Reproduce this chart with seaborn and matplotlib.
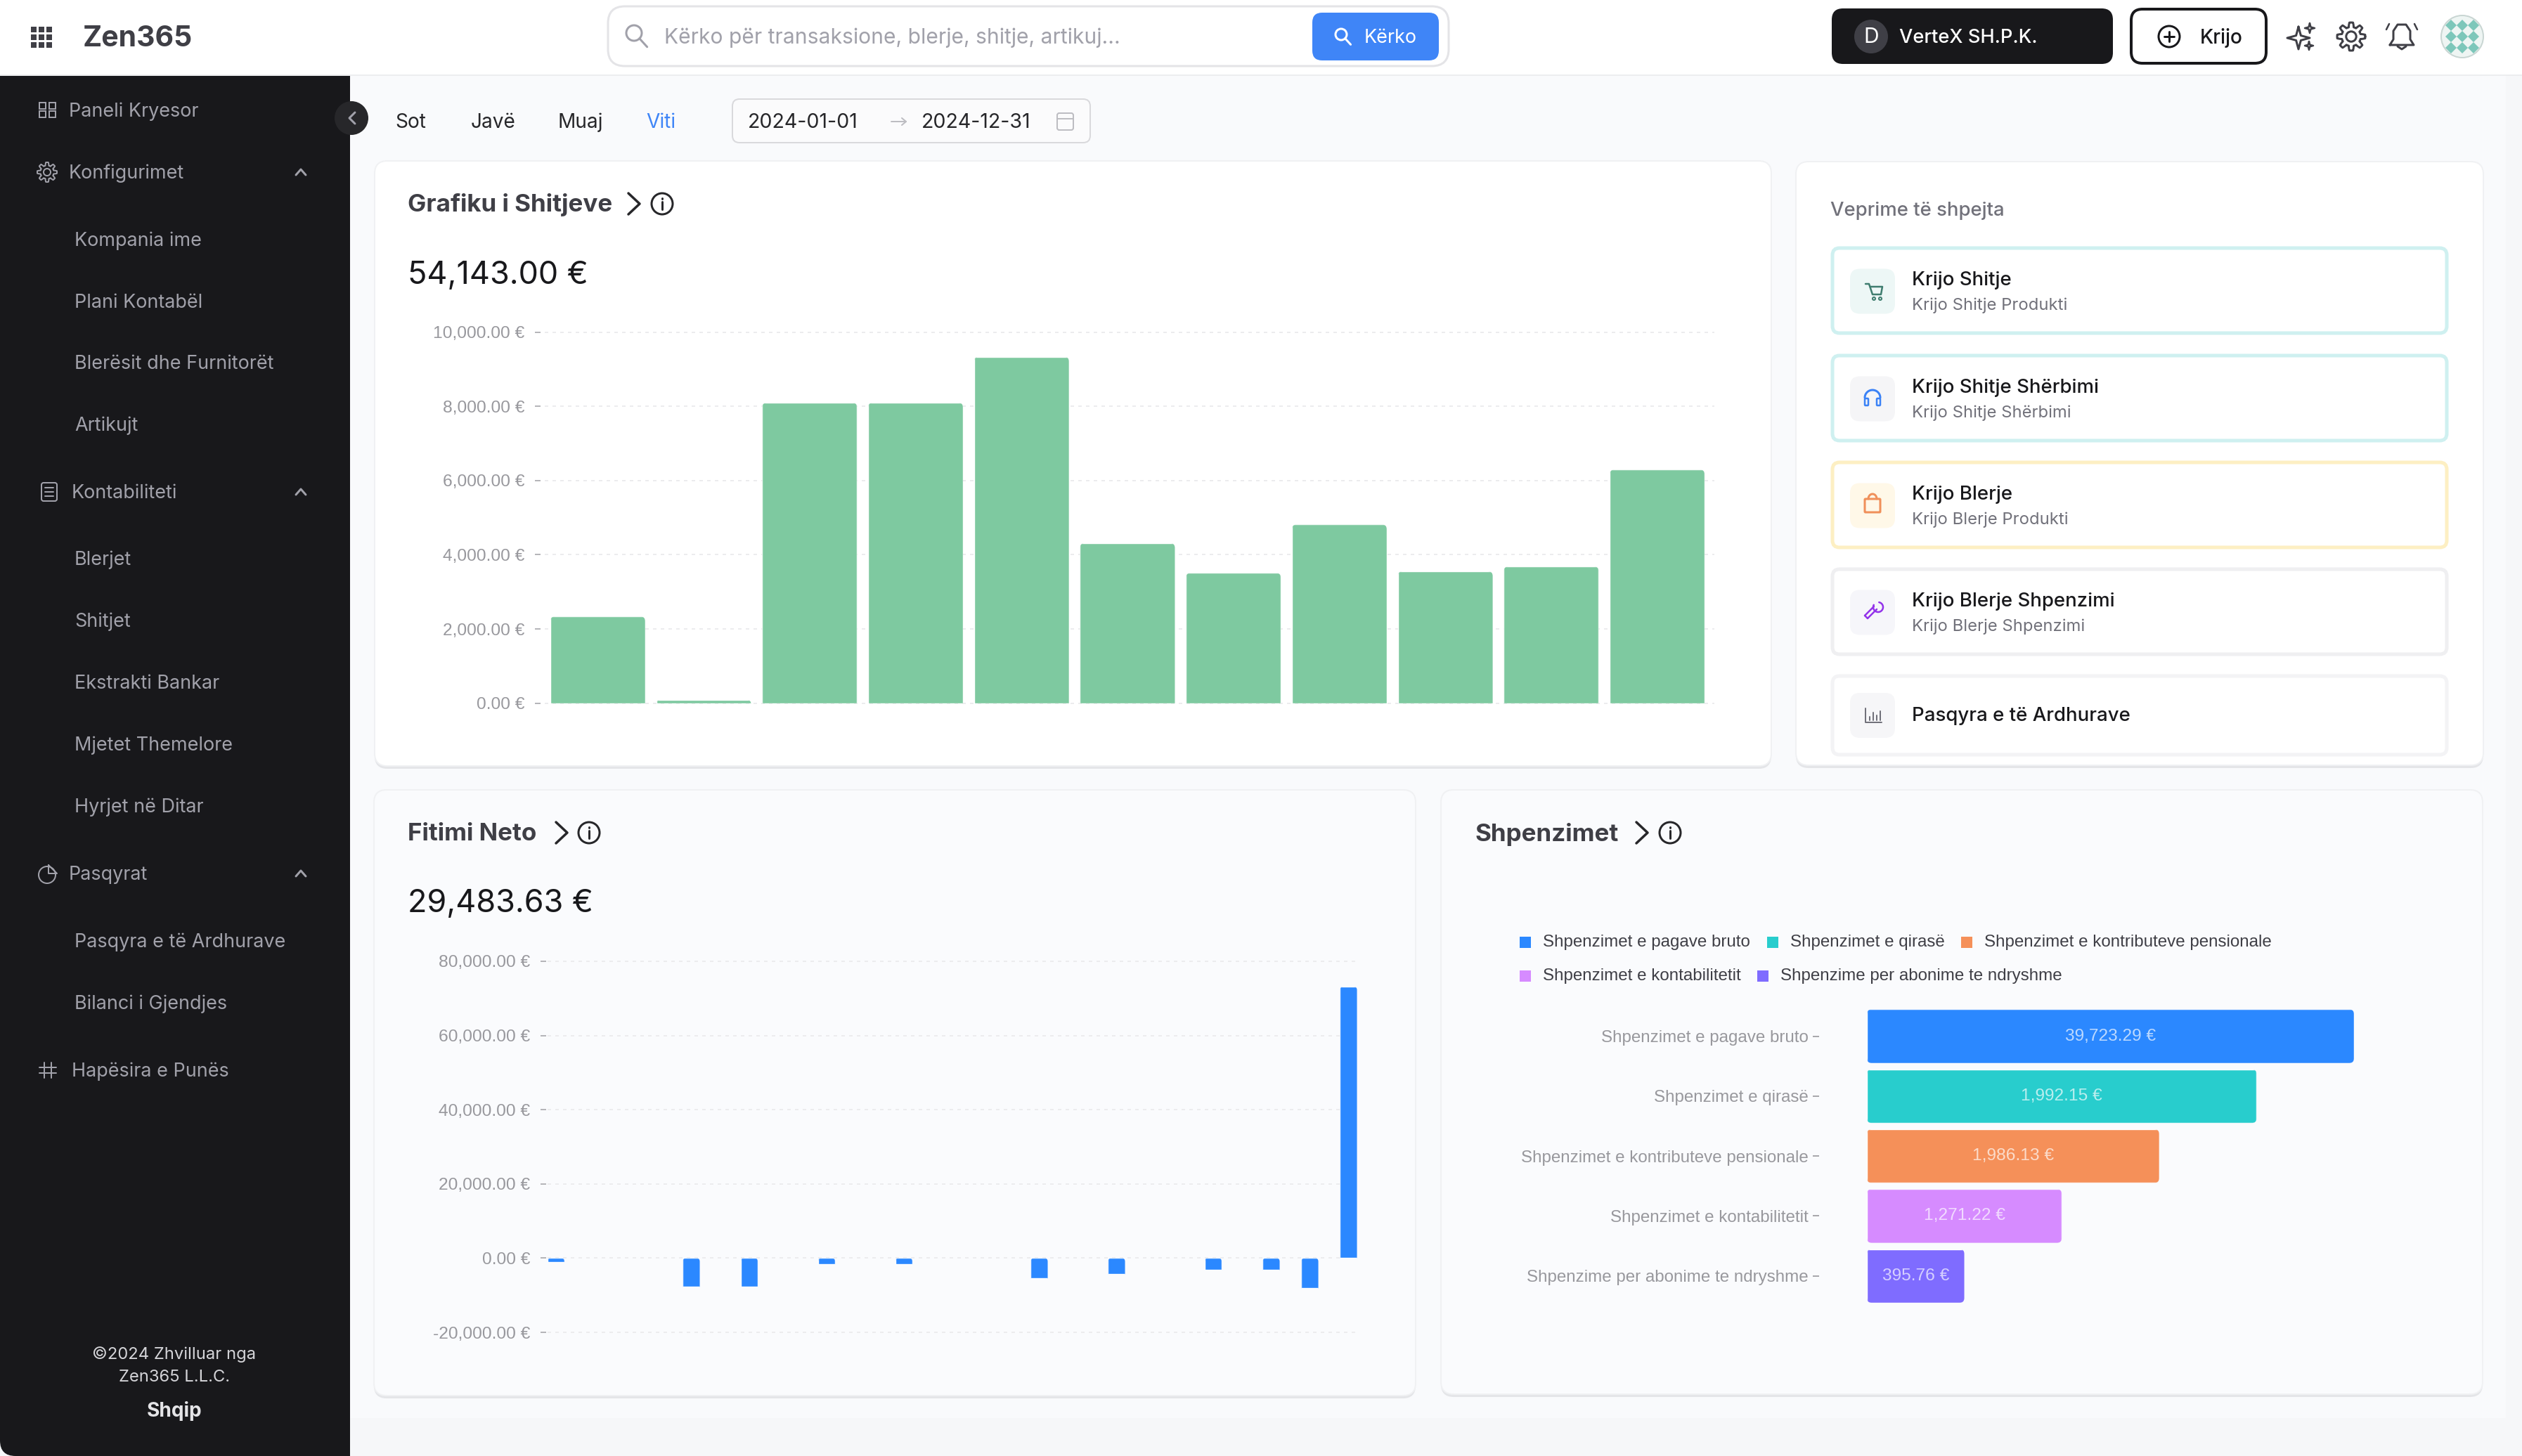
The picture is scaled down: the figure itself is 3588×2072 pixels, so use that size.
import numpy as np
import matplotlib
matplotlib.use('Agg')
import matplotlib.pyplot as plt
import seaborn as sns
from matplotlib.patches import FancyBboxPatch, Circle, Polygon, Rectangle
from matplotlib.transforms import IdentityTransform

# Grafiku i Shitjeve
periudhat = ['P1', 'P2', 'P3', 'P4', 'P5', 'P6', 'P7', 'P8', 'P9', 'P10', 'P11']
shitjet = [2337, 98, 8098, 8098, 9337, 4315, 3511, 4815, 3554, 3685, 6295]
shitjet_ticks = [0, 2000, 4000, 6000, 8000, 10000]

# Fitimi Neto
fitimi_periudha = [0, 7, 10, 14, 18, 25, 29, 34, 37, 39, 41]
fitimi = [-978, -7717, -7609, -1630, -1630, -5435, -4348, -3152, -3152, -8043, 73178]
fitimi_ticks = [-20000, 0, 20000, 40000, 60000, 80000]

# Shpenzimet
shpenzimet_emrat = ['Shpenzimet e pagave bruto', 'Shpenzimet e qirasë',
                    'Shpenzimet e kontributeve pensionale', 'Shpenzimet e kontabilitetit',
                    'Shpenzime per abonime te ndryshme']
shpenzimet_gjatesia = [5, 4, 3, 2, 1]
shpenzimet_vlerat = ['39,723.29 €', '1,992.15 €', '1,986.13 €', '1,271.22 €', '395.76 €']
shpenzimet_ngjyrat = ['#2B88FF', '#28CDCD', '#F59059', '#D68BFF', '#7F6CFF']

menu_kryesor = [('Paneli Kryesor', 98, 157), ('Konfigurimet', 98, 245), ('Kontabiliteti', 102, 700),
                ('Pasqyrat', 98, 1243), ('Hapësira e Punës', 102, 1523)]
menu_nen = [('Kompania ime', 341), ('Plani Kontabël', 429), ('Blerësit dhe Furnitorët', 516),
            ('Artikujt', 604), ('Blerjet', 795), ('Shitjet', 883), ('Ekstrakti Bankar', 971),
            ('Mjetet Themelore', 1059), ('Hyrjet në Ditar', 1147),
            ('Pasqyra e të Ardhurave', 1339), ('Bilanci i Gjendjes', 1427)]

veprimet = [('Krijo Shitje', 'Krijo Shitje Produkti', 351, 476, '#CFF0F0', '#EDF7F6'),
            ('Krijo Shitje Shërbimi', 'Krijo Shitje Shërbimi', 504, 629, '#CFF0F0', '#F5F5F7'),
            ('Krijo Blerje', 'Krijo Blerje Produkti', 656, 781, '#FDEFC3', '#FFF8E8'),
            ('Krijo Blerje Shpenzimi', 'Krijo Blerje Shpenzimi', 808, 933, '#EFEFF1', '#F6F6FA'),
            ('Pasqyra e të Ardhurave', '', 960, 1076, '#F3F3F5', '#F6F6F8')]

W, H = 3588, 2072
PX = 0.72  # px -> pt at dpi 100
FONT = ['Inter', 'DejaVu Sans']
CHART_FONT = ['Liberation Sans', 'DejaVu Sans']
GRAY = '#98989D'

sns.set_theme(style='white')
plt.rcParams['font.family'] = FONT

fig = plt.figure(figsize=(W / 100, H / 100), dpi=100)
fig.patch.set_facecolor('#F6F7F9')

ui = fig.add_axes([0, 0, 1, 1], zorder=0)
ui.set_xlim(0, W)
ui.set_ylim(H, 0)
ui.axis('off')
ui.set_autoscale_on(False)


def box(x0, y0, x1, y1, r, fc, ec='none', lw=0, z=1):
    p = FancyBboxPatch((x0, y0), x1 - x0, y1 - y0, boxstyle=f'round,pad=0,rounding_size={r}',
                       fc=fc, ec=ec, lw=lw * PX, zorder=z)
    ui.add_patch(p)
    return p


def txt(x, y, s, px, color, weight='normal', ha='left', family=FONT, z=5):
    ui.text(x, y + 2, s, fontsize=px * PX, color=color, fontweight=weight, ha=ha, va='center',
            family=family, zorder=z)


def line(xs, ys, color, w=3, z=5):
    ui.plot(xs, ys, color=color, lw=w * PX, solid_capstyle='round', solid_joinstyle='round', zorder=z)


def ring(x, y, r, color, w=3, fc='none', z=5):
    ui.add_patch(Circle((x, y), r, fc=fc, ec=color, lw=w * PX, zorder=z))


def card(x0, y0, x1, y1, fc):
    box(x0, y0 + 4, x1, y1 + 4, 18, '#E4E5E8', z=2)
    box(x0, y0, x1, y1, 18, fc, ec='#F0F1F3', lw=2, z=3)


def gear(x, y, r, color, w=3):
    a = np.linspace(0, 2 * np.pi, 97)
    rad = r * (0.84 + 0.16 * np.clip(2.2 * np.cos(8 * a), -1, 1))
    line(x + rad * np.cos(a), y + rad * np.sin(a), color, w)
    ring(x, y, r * 0.36, color, w)


def magnifier(x, y, r, color, w=3):
    ring(x, y, r, color, w, z=6)
    line([x + r * 0.7, x + r * 1.7], [y + r * 0.7, y + r * 1.8], color, w, z=6)


def sparkle(x, y, r, color, w=3):
    a = np.arange(9) * np.pi / 4
    rad = np.where(np.arange(9) % 2 == 0, r, r * 0.3)
    line(x + rad * np.sin(a), y - rad * np.cos(a), color, w)


def title(x, y, s, chev_x, info_x):
    txt(x, y, s, 35, '#3F3F46', weight='bold')
    line([chev_x - 8, chev_x + 8, chev_x - 8], [y - 15, y, y + 15], '#27272A', 3.5, z=6)
    ring(info_x, y, 15, '#27272A', 3, z=6)
    line([info_x, info_x], [y - 3, y + 8], '#27272A', 3, z=6)
    line([info_x, info_x], [y - 8, y - 7.5], '#27272A', 3, z=6)


# page and header
ui.add_patch(Rectangle((498, 107), 3067, 1911, fc='#F9FAFC', ec='none', zorder=0.5))
ui.add_patch(Rectangle((0, 0), W, 107, fc='white', ec='none', zorder=1))
line([0, W], [107, 107], '#ECEDEF', 2, z=1.5)
ui.add_patch(Rectangle((0, 108), 498, H - 108 - 30, fc='#18181B', ec='none', zorder=1))
ui.add_patch(Rectangle((30, H - 40), 468, 40, fc='#18181B', ec='none', zorder=1))
box(0, H - 60, 200, H, 22, '#18181B', z=1)

for i in range(3):
    for j in range(3):
        ui.add_patch(Rectangle((44 + 11 * i, 38 + 11 * j), 8, 8, fc='#3F3F46', ec='none', zorder=4))
txt(118, 53, 'Zen365', 41, '#3F3F46', weight='bold')

box(865, 9, 2061, 94, 24, 'white', ec='#E4E4E7', lw=3, z=2)
magnifier(902, 47, 11, '#A1A1AA', 3)
txt(945, 52, 'Kërko për transaksione, blerje, shitje, artikuj...', 30, '#A1A1AA')
box(1867, 18, 2047, 86, 14, '#3F85F7', z=3)
magnifier(1908, 49, 8, 'white', 3)
txt(1941, 52, 'Kërko', 27, 'white')

box(2606, 12, 3006, 91, 16, '#18181B', z=2)
ui.add_patch(Circle((2662, 52), 24, fc='#3F3F46', ec='none', zorder=3))
txt(2662, 51, 'D', 30, 'white', ha='center')
txt(2702, 52, 'VerteX SH.P.K.', 27.3, 'white', weight='medium')
box(3032, 13, 3224, 90, 16, 'white', ec='#18181B', lw=4, z=2)
ring(3086, 52, 15, '#18181B', 3)
line([3079, 3093], [52, 52], '#18181B', 3)
line([3086, 3086], [45, 59], '#18181B', 3)
txt(3130, 52, 'Krijo', 28, '#18181B', weight='medium')
sparkle(3270, 54, 16, '#3F3F46', 3)
sparkle(3286, 40, 7, '#3F3F46', 2.5)
sparkle(3285, 65, 6, '#3F3F46', 2.5)
gear(3345, 52, 20, '#3F3F46', 3)
bell_x = np.array([-17, -12, -12, -6, 6, 12, 12, 17, -17])
bell_y = np.array([14, 6, -6, -15, -15, -6, 6, 14, 14])
line(3417 + bell_x, 50 + bell_y, '#3F3F46', 3)
line([3411, 3417, 3423], [66, 70, 66], '#3F3F46', 3)
line([3395, 3399], [42, 34], '#3F3F46', 2.5)
line([3439, 3435], [42, 34], '#3F3F46', 2.5)
avatar = Circle((3503, 52), 30, fc='#EEF5F3', ec='#C9D6D3', lw=2 * PX, zorder=4)
ui.add_patch(avatar)
for dx in (-16, 0, 16):
    for dy in (-16, 0, 16):
        d = Polygon([(3503 + dx, 52 + dy - 8), (3503 + dx + 8, 52 + dy), (3503 + dx, 52 + dy + 8),
                     (3503 + dx - 8, 52 + dy)], fc='#7DC7BA', ec='none', zorder=5)
        ui.add_patch(d)
        d.set_clip_path(avatar)

# sidebar
SIDE = '#A1A1AA'
for name, x, y in menu_kryesor:
    txt(x, y, name, 27, SIDE)
for name, y in menu_nen:
    txt(106, y, name, 27, SIDE)
for y in (245, 700, 1243):
    line([421, 428, 435], [y + 4, y - 4, y + 4], SIDE, 3)
for dx, dy in ((56, 146), (70, 146), (56, 158), (70, 158)):
    ui.add_patch(Rectangle((dx, dy), 9, 9, fc='none', ec=SIDE, lw=2 * PX, zorder=5))
gear(67, 245, 14, SIDE, 2)
box(59, 687, 81, 713, 3, 'none', ec=SIDE, lw=2, z=5)
line([64, 76], [694, 694], SIDE, 2)
for yy in (700, 706):
    line([64, 76], [yy, yy], SIDE, 2)
ring(67, 1245, 12, SIDE, 2)
line([69, 69, 81, 69], [1231, 1243, 1243, 1231], SIDE, 2)
line([56, 80], [1519, 1519], SIDE, 2)
line([56, 80], [1527, 1527], SIDE, 2)
line([63, 63], [1512, 1534], SIDE, 2)
line([73, 73], [1512, 1534], SIDE, 2)
txt(248, 1926, '©2024 Zhvilluar nga', 23.8, '#D4D4D8', ha='center')
txt(248, 1958, 'Zen365 L.L.C.', 23.8, '#D4D4D8', ha='center')
txt(248, 2006, 'Shqip', 28, '#E4E4E7', weight='bold', ha='center')
ui.add_patch(Circle((500, 168), 24, fc='#27272A', ec='none', zorder=6))
line([505, 497, 505], [160, 168, 176], '#A1A1AA', 3, z=7)

# period selector
for name, x, c in (('Sot', 562, '#27272A'), ('Javë', 670, '#27272A'), ('Muaj', 793, '#27272A'), ('Viti', 919, '#3F85F7')):
    txt(x, 172, name, 28, c)
box(1042, 141, 1551, 203, 10, '#FBFBFC', ec='#D9D9DC', lw=2, z=2)
txt(1064, 172, '2024-01-01', 28.6, '#27272A')
txt(1311, 172, '2024-12-31', 28.6, '#27272A')
line([1268, 1289], [173, 173], '#BDBDC2', 2)
line([1283, 1289, 1283], [168, 173, 178], '#BDBDC2', 2)
box(1504, 161, 1527, 185, 3, 'none', ec='#BDBDC2', lw=2, z=5)
line([1504, 1527], [169, 169], '#BDBDC2', 2)

# cards
card(533, 229, 2520, 1090, 'white')
card(532, 1124, 2014, 1986, '#FAFBFD')
card(2050, 1124, 3532, 1984, '#FAFBFD')
card(2555, 230, 3533, 1089, 'white')
title(580, 290, 'Grafiku i Shitjeve', 902, 942)
title(580, 1185, 'Fitimi Neto', 799, 838)
title(2099, 1185, 'Shpenzimet', 2336, 2376)
txt(580, 390, '54,143.00 €', 45, '#18181B')
txt(580, 1284, '29,483.63 €', 45, '#18181B')

# quick actions
txt(2604, 298, 'Veprime të shpejta', 27.5, '#71717A', weight='medium')
for name, sub, y0, y1, edge, tile in veprimet:
    box(2607, y0 + 2, 3481, y1 - 2, 10, 'white', ec=edge, lw=5, z=4)
    cy = (y0 + y1) / 2 + (1 if sub else 0)
    box(2632, cy - 32, 2696, cy + 32, 14, tile, z=5)
    if sub:
        txt(2720, y0 + 46, name, 27.6, '#18181B', weight='medium')
        txt(2720, y0 + 82, sub, 23.8, '#71717A')
    else:
        txt(2720, cy - 1, name, 27.6, '#18181B', weight='medium')

# action icons
cy = 414
line([2654, 2659, 2664, 2676, 2678, 2661], [cy - 10, cy - 10, cy + 5, cy + 5, cy - 6, cy - 6], '#3F7D6F', 2.5, z=6)
ring(2666, cy + 11, 2, '#3F7D6F', 2, z=6)
ring(2675, cy + 11, 2, '#3F7D6F', 2, z=6)
a = np.linspace(np.pi, 2 * np.pi, 30)
line(2664 + 11 * np.cos(a), 566 + 11 * np.sin(a), '#3B82F6', 3, z=6)
box(2653, 567, 2658, 577, 1, 'none', ec='#3B82F6', lw=2.5, z=6)
box(2670, 567, 2675, 577, 1, 'none', ec='#3B82F6', lw=2.5, z=6)
box(2653, 710, 2675, 729, 1, 'none', ec='#F0905A', lw=3, z=6)
line(2664 + 6 * np.cos(a), 710 + 7 * np.sin(a), '#F0905A', 3, z=6)
line([2653, 2666, 2666], [876, 863, 863], '#9333EA', 2.5, z=6)
line([2657, 2670], [880, 867], '#9333EA', 2.5, z=6)
line([2653, 2657], [876, 880], '#9333EA', 2.5, z=6)
a = np.linspace(-0.6, 4.4, 30)
line(2672 + 7 * np.cos(a - np.pi / 4), 864 + 7 * np.sin(a - np.pi / 4), '#9333EA', 2.5, z=6)
line([2654, 2654, 2677], [1008, 1028, 1028], '#71717A', 2, z=6)
for xx, top in ((2660, 1020), (2665, 1014), (2670, 1018), (2675, 1012)):
    line([xx, xx], [1025, top], '#71717A', 2, z=6)


def chart_axes(left, top, right, bottom):
    ax = fig.add_axes([left / W, 1 - bottom / H, (right - left) / W, (bottom - top) / H], zorder=2)
    ax.patch.set_alpha(0)
    return ax


def style_chart(ax, ticks, out, pad, length=8):
    sns.despine(ax=ax, left=True, bottom=True)
    ax.spines['left'].set_position(('outward', out * PX))
    ax.spines['left'].set_visible(False)
    ax.set_yticks(ticks)
    ax.set_yticklabels([f'{t:,.2f} €' for t in ticks], family=CHART_FONT, color=GRAY, fontsize=24.5 * PX)
    ax.tick_params(axis='y', left=True, length=length * PX, width=2 * PX, color='#B5B5B9', pad=pad * PX)
    ax.set_xticks([])
    ax.set_xlabel('')
    ax.set_ylabel('')
    ax.grid(axis='y', color='#ECECEE', lw=2 * PX, ls=(0, (2.5, 3)))
    ax.set_axisbelow(True)
    for g in ax.get_ygridlines():
        g.set_clip_on(False)


# rounded corners
def round_bars(ax, r, top_only=True):
    for p in ax.patches:
        (x0, y0), (x1, y1) = ax.transData.transform(p.get_bbox().get_points())
        x0, x1 = sorted((x0, x1))
        y0, y1 = sorted((y0, y1))
        if top_only:
            y0 -= 2 * r
        clip = FancyBboxPatch((x0, y0), x1 - x0, y1 - y0, boxstyle=f'round,pad=0,rounding_size={r}',
                              transform=IdentityTransform())
        p.set_clip_path(clip)


# Grafiku i Shitjeve
ax1 = chart_axes(775, 472.6, 2439, 1000.7)
sns.barplot(x=periudhat, y=shitjet, color='#7EC9A0', saturation=1, width=0.896, errorbar=None, ax=ax1)
ax1.set_xlim(-0.5, 10.5 + 6 / 150.6)
ax1.set_ylim(0, 10000)
style_chart(ax1, shitjet_ticks, 6, 15)
round_bars(ax1, 7)

# Fitimi Neto
ax2 = chart_axes(779, 1368, 1932, 1896)
sns.barplot(x=fitimi_periudha, y=fitimi, native_scale=True, color='#2B88FF', saturation=1, width=0.44,
            errorbar=None, ax=ax2)
ax2.set_xlim(-0.436, 41.49)
ax2.set_ylim(-20000, 80000)
style_chart(ax2, fitimi_ticks, 2, 15)
round_bars(ax2, 5)

# Shpenzimet
ax3 = chart_axes(2656, 1432, 3349, 1858.4)
sns.barplot(y=shpenzimet_emrat, x=shpenzimet_gjatesia, hue=shpenzimet_emrat, palette=shpenzimet_ngjyrat,
            dodge=False, saturation=1, width=0.897, legend=False, errorbar=None, ax=ax3)
ax3.set_xlim(0, 5)
ax3.set_ylim(4.5, -0.5)
sns.despine(ax=ax3, left=True, bottom=True)
ax3.spines['left'].set_position(('outward', 68 * PX))
ax3.spines['left'].set_visible(False)
ax3.set_yticks(range(5))
ax3.set_yticklabels(shpenzimet_emrat, family=CHART_FONT, color=GRAY, fontsize=24.1 * PX)
ax3.tick_params(axis='y', left=True, length=9 * PX, width=2 * PX, color='#A8A8AC', pad=6 * PX)
ax3.set_xticks([])
ax3.set_xlabel('')
ax3.set_ylabel('')
round_bars(ax3, 7, top_only=False)
for cont, val in zip(ax3.containers, shpenzimet_vlerat):
    ax3.bar_label(cont, labels=[val], label_type='center', family=CHART_FONT, color='white', alpha=0.68,
                  fontsize=24.5 * PX)

# legend of the expenses chart
rows = [(1341, 2162), (1341, 2514), (1341, 2790), (1389, 2162), (1389, 2500)]
for (ly, lx), name, c in zip(rows, shpenzimet_emrat, shpenzimet_ngjyrat):
    ui.add_patch(Rectangle((lx, ly - 8), 16, 16, fc=c, ec='none', zorder=5))
    txt(lx + 33, ly - 2, name, 24.1, '#3F3F46', family=CHART_FONT)

fig.savefig('out.png', dpi=100, facecolor=fig.get_facecolor())
